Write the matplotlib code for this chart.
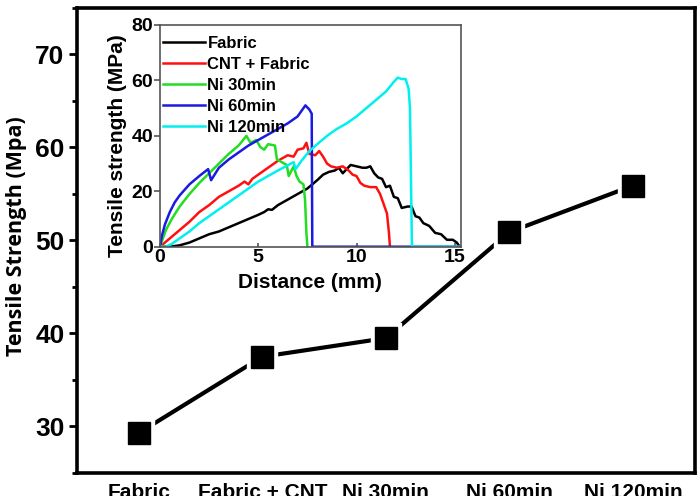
import numpy as np
import matplotlib
matplotlib.use("Agg")
import matplotlib.pyplot as plt
from matplotlib.ticker import MultipleLocator

plt.rcParams['font.family'] = ['Liberation Sans', 'DejaVu Sans']
plt.rcParams['font.weight'] = 'bold'

# ---- main chart data ----
categories = ["Fabric", "Fabric + CNT", "Ni 30min", "Ni 60min", "Ni 120min"]
strength = [29.3, 37.5, 39.5, 50.9, 55.9]
main_yticks = [30, 40, 50, 60, 70]

# ---- inset data (Distance mm, Tensile strength MPa) ----
fabric_x = [0, 0.5, 1.0, 1.5, 2.0, 2.5, 3.0, 3.5, 4.0, 4.5, 5.0, 5.3, 5.5, 5.7, 6.0, 6.5, 7.0, 7.5,
            8.0, 8.3, 8.6, 8.9, 9.1, 9.3, 9.5, 9.7, 10.0, 10.3, 10.5, 10.7, 10.9, 11.1, 11.3, 11.5,
            11.7, 11.9, 12.1, 12.3, 12.6, 12.8, 13.0, 13.2, 13.4, 13.7, 14.0, 14.3, 14.6, 14.9, 15.1, 15.2]
fabric_y = [0, 0, 0.5, 1.5, 3, 4.5, 5.5, 7, 8.5, 10, 11.5, 12.5, 13.5, 13.3, 15, 17, 19, 21,
            24, 26, 27, 27.5, 28.5, 26.5, 28, 29.5, 29, 28.5, 28.5, 29, 26.5, 25, 24.5, 21.5,
            22, 18, 17.5, 14, 14.5, 14.5, 11, 10.5, 8.5, 7.5, 5, 4.5, 2.5, 2.5, 1.5, 0.5]

cnt_x = [0, 0.5, 1.0, 1.5, 2.0, 2.5, 3.0, 3.5, 4.0, 4.3, 4.5, 4.7, 5.0, 5.5, 6.0, 6.5, 6.8, 7.0,
         7.3, 7.45, 7.6, 7.9, 8.1, 8.3, 8.5, 8.7, 9.0, 9.3, 9.6, 9.8, 10.0, 10.2, 10.4, 10.7, 11.0,
         11.2, 11.4, 11.55, 11.65, 11.7]
cnt_y = [0, 3, 6, 9, 12.5, 15, 18, 20, 22, 23.5, 22.5, 24.5, 26, 28.5, 31, 33, 32.5, 35,
         35.5, 37.5, 33.5, 33, 34.5, 32.5, 30, 29, 28.5, 29, 27.5, 26, 25.5, 23, 22, 21.5, 21.5,
         19, 15, 12, 5, 0]

ni30_x = [0, 0.3, 0.6, 1.0, 1.5, 2.0, 2.5, 3.0, 3.5, 4.0, 4.4, 4.6, 4.9, 5.1, 5.3, 5.5, 5.85,
          5.95, 6.2, 6.45, 6.55, 6.8, 6.95, 7.1, 7.3, 7.38, 7.45, 7.5]
ni30_y = [0, 6, 10, 14.5, 19, 23, 26.5, 30, 33.5, 36.5, 40, 37.5, 38.5, 36, 35, 37, 36.5,
          31.5, 30.5, 29.5, 25.5, 29, 25.5, 23.5, 22.5, 17, 5, 0]

ni60_x = [0, 0.1, 0.25, 0.5, 0.75, 1.0, 1.5, 2.0, 2.45, 2.6, 3.0, 3.5, 4.0, 4.5, 5.0, 5.5, 6.0,
          6.5, 7.0, 7.4, 7.6, 7.72, 7.75, 15.3]
ni60_y = [0, 4, 8, 12.5, 16, 18.5, 22.5, 25.5, 28, 24, 28.5, 31.5, 34, 36.5, 38.5, 40.5, 42.5,
          44.5, 47, 51, 49.5, 48, 0, 0]

ni120_x = [0, 0.3, 0.6, 1.0, 1.5, 2.0, 2.5, 3.0, 3.5, 4.0, 4.5, 5.0, 5.5, 6.0, 6.4, 6.8, 6.9,
           7.2, 7.6, 8.0, 8.5, 9.0, 9.5, 10.0, 10.5, 11.0, 11.5, 11.9, 12.1, 12.3, 12.5, 12.65,
           12.72, 12.78, 12.82, 15.3]
ni120_y = [0, 0, 1, 3, 5.5, 8.5, 11, 13.5, 16, 18.5, 21, 23.5, 25.5, 27.5, 29, 30.5, 28,
           31, 34.5, 37, 40, 42.5, 44.5, 47, 50, 53, 56, 59.5, 61, 60.5, 60.5, 57,
           50, 20, 0, 0]

inset_series = [
    ("Fabric", fabric_x, fabric_y, "black"),
    ("CNT + Fabric", cnt_x, cnt_y, "#ff1010"),
    ("Ni 30min", ni30_x, ni30_y, "#22dd22"),
    ("Ni 60min", ni60_x, ni60_y, "#1a1ae0"),
    ("Ni 120min", ni120_x, ni120_y, "#00f0f0"),
]

fig = plt.figure(figsize=(6.98, 4.96), dpi=100)

# ---- main axes ----
ax = fig.add_axes([0.1103, 0.0464, 0.885, 0.9375])
xpos = np.arange(len(categories))
ax.plot(xpos, strength, '-', color='black', lw=3, zorder=2, solid_capstyle='butt')
ax.plot(xpos, strength, 's', ms=22, color='white', zorder=3)
ax.plot(xpos, strength, 's', ms=15.5, color='black', zorder=4)
ax.set_xlim(-0.5, 4.5)
ax.set_ylim(25, 75)
ax.set_xticks(xpos)
ax.set_xticklabels(categories, fontsize=15, fontweight='bold')
ax.set_yticks(main_yticks)
ax.yaxis.set_minor_locator(MultipleLocator(5))
ax.tick_params(axis='y', which='major', direction='out', length=6, width=2, labelsize=19, pad=3)
ax.tick_params(axis='y', which='minor', direction='out', length=3.5, width=2)
ax.tick_params(axis='x', length=0, pad=7)
for s in ax.spines.values():
    s.set_linewidth(2.6)
ax.set_ylabel("Tensile Strength (Mpa)", fontsize=15.5, fontweight='bold',
              family=['Open Sans', 'DejaVu Sans'], labelpad=6, y=0.51)

# ---- inset axes ----
axin = fig.add_axes([0.2292, 0.5026, 0.4308, 0.447])
axin.set_facecolor('white')
for name, xs, ys, col in inset_series:
    axin.plot(xs, ys, color=col, lw=1.8, label=name)
axin.set_xlim(0, 15.3)
axin.set_ylim(0, 80)
axin.set_xticks([0, 5, 10, 15])
axin.set_yticks([0, 20, 40, 60, 80])
for s in axin.spines.values():
    s.set_linewidth(1.2)
    s.set_color('#555555')
axin.tick_params(axis='y', direction='out', length=4, width=1.2, labelsize=14, pad=1, color='#555555')
axin.tick_params(axis='x', direction='in', length=3, width=1.2, labelsize=14, pad=2, color='#555555')
axin.set_xlabel("Distance (mm)", fontsize=15, fontweight='bold', labelpad=5)
axin.set_ylabel("Tensile strength (MPa)", fontsize=15, fontweight='bold', labelpad=3, y=0.455)
leg = axin.legend(loc='upper left', bbox_to_anchor=(0.01, 0.95), frameon=False, fontsize=12,
                  handlelength=2.52, handletextpad=0.15, labelspacing=0.36,
                  borderaxespad=0, borderpad=0)
for t in leg.get_texts():
    t.set_fontweight('bold')
for h in leg.get_lines():
    h.set_linewidth(1.8)

fig.savefig('out.png', dpi=100)
